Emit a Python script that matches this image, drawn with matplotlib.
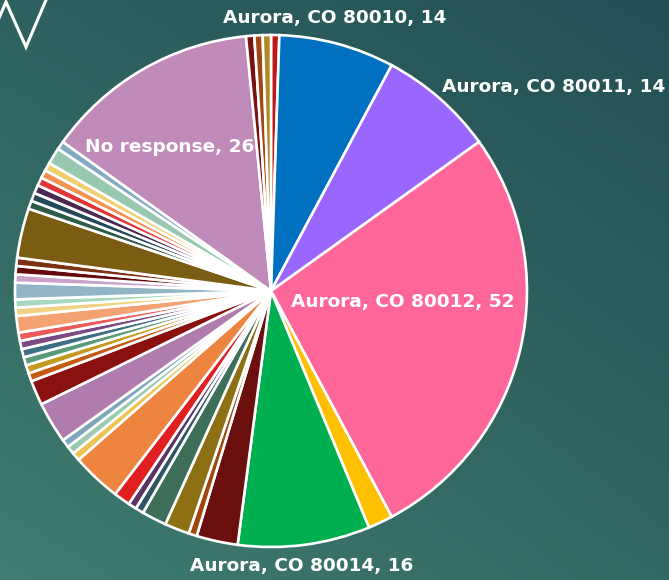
import numpy as np
import matplotlib
matplotlib.use("Agg")
import matplotlib.pyplot as plt
from matplotlib.colors import to_rgb

# ZIP code responses, in drawing order (clockwise from 12 o'clock)
zips = ["Other A", "Aurora, CO 80010", "Aurora, CO 80011", "Aurora, CO 80012",
        "Other B", "Aurora, CO 80014"] + \
       ["Other %d" % i for i in range(1, 36)] + \
       ["No response", "Other C", "Other D", "Other E"]
counts = [1, 14, 14, 52, 3, 16,
          5, 1, 3, 3, 1, 1, 2, 6, 1, 1, 1, 5, 3, 1, 1, 1, 1, 1, 1, 2, 1, 1,
          2, 1, 1, 1, 6, 1, 1, 1, 1, 1, 1, 2, 1,
          26, 1, 1, 1]
colors = ["#C0171B", "#0070C0", "#9966FF", "#FF6699", "#FFC000", "#00B050",
          "#6B0E0E", "#A0460F", "#8E7014", "#3C6E58", "#2F5565", "#5A3462",
          "#E02020", "#ED843F", "#EEC24E", "#9CCAB0", "#7EA6BA", "#B07CAD",
          "#8B1111", "#C55A11", "#C49A1F", "#5A9B7A", "#3F6F85", "#7A4A82",
          "#EC5B5B", "#F4A272", "#F2D280", "#A9D8C0", "#92B5C6", "#C9A2C9",
          "#650A0A", "#7A3210", "#7A5C12", "#2E5A48", "#24495A", "#4A2A52",
          "#E23434", "#F29150", "#F0CF6E", "#98C8B0", "#82AAC2",
          "#C08BB9", "#7A1212", "#A24712", "#B08A24"]

# only these slices carry a data label: (name, label x, label y) in pie units
shown = [("Aurora, CO 80010", 0.25, 1.066),
         ("Aurora, CO 80011", 1.105, 0.797),
         ("Aurora, CO 80012", 0.516, -0.043),
         ("Aurora, CO 80014", 0.121, -1.074),
         ("No response", -0.395, 0.5625)]

W, H = 669, 580
fig = plt.figure(figsize=(W / 100, H / 100), dpi=100)

# slide background gradient
bg = fig.add_axes([0, 0, 1, 1])
bg.set_axis_off()
tl, tr = np.array(to_rgb("#2E615F")), np.array(to_rgb("#234F56"))
bl, br = np.array(to_rgb("#3F7D70")), np.array(to_rgb("#336761"))
u = np.linspace(0, 1, 200)[None, :, None]
v = np.linspace(0, 1, 200)[:, None, None]
grad = (1 - v) * ((1 - u) * tl + u * tr) + v * ((1 - u) * bl + u * br)
bg.imshow(grad, aspect="auto", extent=[0, W, H, 0])
bg.plot([-14, 6, 26, 46], [48, 2, 47, 0], color="white", lw=2.2,
        solid_joinstyle="miter")
bg.set_xlim(0, W)
bg.set_ylim(H, 0)

cx, cy, R = 271, 291, 256
ax = fig.add_axes([(cx - R) / W, (H - cy - R) / H, 2 * R / W, 2 * R / H])
ax.pie(counts, colors=colors, startangle=90, counterclock=False,
       wedgeprops=dict(edgecolor="white", linewidth=1.9))
ax.set_xlim(-1, 1)
ax.set_ylim(-1, 1)
ax.set_axis_off()

for name, lx, ly in shown:
    n = counts[zips.index(name)]
    ax.text(lx, ly, "%s, %d" % (name, n), ha="center", va="center",
            color="white", fontsize=13.3, fontweight="bold",
            family="DejaVu Sans", clip_on=False)

fig.savefig("out.png", dpi=100)
